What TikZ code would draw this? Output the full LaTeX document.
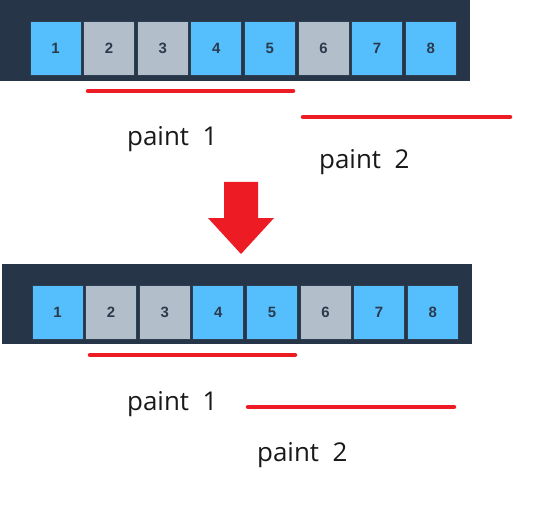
\documentclass[tikz,border=0pt]{standalone}
\usepackage{fontspec}
\setmainfont{Open Sans}
\newfontfamily\numfont{Liberation Sans}
\definecolor{barbg}{HTML}{263547}
\definecolor{blueb}{HTML}{55BFFE}
\definecolor{grayb}{HTML}{B2BFCA}
\definecolor{boxedge}{HTML}{2E3F52}
\definecolor{digit}{HTML}{2B3A4C}
\definecolor{redl}{HTML}{ED1C24}
\begin{document}
\begin{tikzpicture}[x=1bp,y=-1bp,
  bar/.style={fill=barbg,draw=none},
  cell/.style={draw=boxedge,line width=0.8bp,minimum width=51bp,minimum height=54bp,inner sep=0pt,
     font=\numfont\bfseries\fontsize{15}{15}\selectfont,text=digit},
  bluecell/.style={cell,fill=blueb},
  graycell/.style={cell,fill=grayb},
  redline/.style={draw=redl,line width=4.5bp,line cap=round},
  lbl/.style={font=\fontsize{26}{26}\selectfont,text=black!90,inner sep=0pt}]
\useasboundingbox (0,0) rectangle (534,520);
\fill[white] (0,0) rectangle (534,520);
% top bar
\path[bar] (0,0) rectangle (470,81);
\foreach \i/\s in {1/bluecell,2/graycell,3/graycell,4/bluecell,5/bluecell,6/graycell,7/bluecell,8/bluecell}{
  \node[\s] (t\i) at ({30+25.5+53.6*(\i-1)},48) {\i};
}
\path[redline] (88,91) -- (293,91);
\path[redline] (303,117) -- (510,117);
\node[lbl,anchor=base west] (tp1) at (127,146) {paint\ \ 1};
\node[lbl,anchor=base west] (tp2) at (319,169) {paint\ \ 2};
% arrow
\fill[redl] (224,182) -- (258,182) -- (258,218) -- (274,218) -- (241,254) -- (208,218) -- (224,218) -- cycle;
% bottom bar
\path[bar] (2,264) rectangle (472,344);
\foreach \i/\s in {1/bluecell,2/graycell,3/graycell,4/bluecell,5/bluecell,6/graycell,7/bluecell,8/bluecell}{
  \node[\s] (b\i) at ({32+25.5+53.6*(\i-1)},312) {\i};
}
\path[redline] (90,355) -- (295,355);
\path[redline] (248,407) -- (454,407);
\node[lbl,anchor=base west] (bp1) at (127,410) {paint\ \ 1};
\node[lbl,anchor=base west] (bp2) at (257,461) {paint\ \ 2};
\end{tikzpicture}
\end{document}
